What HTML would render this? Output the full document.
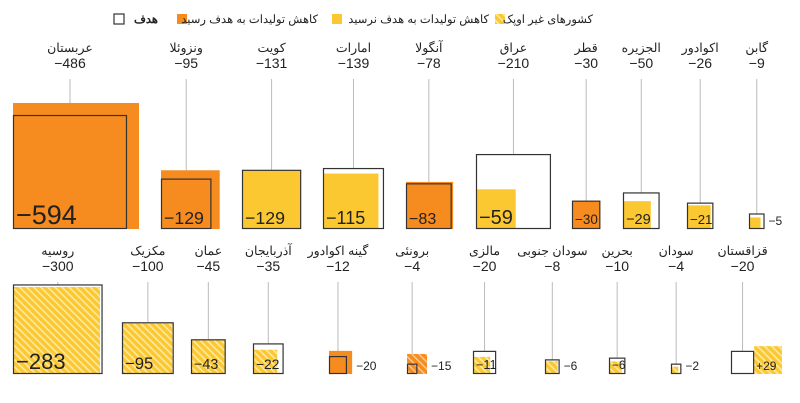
<!DOCTYPE html>
<html><head><meta charset="utf-8">
<style>
html,body{margin:0;padding:0;background:#fff;}
svg{display:block;font-family:"Liberation Sans","Noto Sans CJK SC",sans-serif;}
</style></head>
<body>
<svg id="chart" width="800" height="403" viewBox="0 0 800 403" xmlns="http://www.w3.org/2000/svg">
<defs>
<pattern id="hatchY" patternUnits="userSpaceOnUse" width="5" height="5" patternTransform="rotate(-45)">
<rect width="5" height="5" fill="#fcc832"/><rect width="1.6" height="5" fill="#fde9a0"/>
</pattern>
<pattern id="hatchO" patternUnits="userSpaceOnUse" width="5" height="5" patternTransform="rotate(-45)">
<rect width="5" height="5" fill="#f68b1f"/><rect width="1.6" height="5" fill="#fbc58a"/>
</pattern>
</defs>
<g id="legend">
<g>
<rect x="114" y="14" width="10" height="10" fill="#fff" stroke="#333" stroke-width="1.2"/>
<text x="158" y="23" font-size="11.5" font-weight="bold" fill="#222" text-anchor="end">هدف</text></g>
<g>
<rect x="177" y="14" width="10" height="10" fill="#f68b1f"/>
<text x="318" y="23" font-size="11.5" fill="#222" text-anchor="end">کاهش تولیدات به هدف رسید</text></g>
<g>
<rect x="332" y="14" width="10" height="10" fill="#fcc832"/>
<text x="489" y="23" font-size="11.5" fill="#222" text-anchor="end">کاهش تولیدات به هدف نرسید</text></g>
<g>
<rect x="495" y="14" width="10" height="10" fill="url(#hatchY)"/>
<text x="593" y="23" font-size="11.5" fill="#222" text-anchor="end">کشورهای غیر اوپک</text></g>
</g>
<g id="marks"></g>
</svg>
<script>
// Row 1
const names1 = ["عربستان","ونزوئلا","کویت","امارات","آنگولا","عراق","قطر","الجزیره","اکوادور","گابن"];
const targets1 = [-486,-95,-131,-139,-78,-210,-30,-50,-26,-9];
const actuals1 = [-594,-129,-129,-115,-83,-59,-30,-29,-21,-5];
const nonOpec1 = [false,false,false,false,false,false,false,false,false,false];
// Row 2
const names2 = ["روسیه","مکزیک","عمان","آذربایجان","گینه اکوادور","برونئی","مالزی","سودان جنوبی","بحرین","سودان","قزاقستان"];
const targets2 = [-300,-100,-45,-35,-12,-4,-20,-8,-10,-4,-20];
const actuals2 = [-283,-95,-43,-22,-20,-15,-11,-6,-6,-2,29];
const nonOpec2 = [true,true,true,true,false,true,true,true,true,true,true];

const K = 5.17;
const side = v => Math.sqrt(Math.abs(v)) * K;
const svg = document.getElementById('marks');
const NS = "http://www.w3.org/2000/svg";
function mk(tag, attrs){const e=document.createElementNS(NS,tag);for(const k in attrs)e.setAttribute(k,attrs[k]);return e;}

function drawRow(names, targets, actuals, nonOpec, xs, base, nameY, row){
  names.forEach((n,i)=>{
    const g = mk('g',{});
    
    
    svg.appendChild(g);
    const x = xs[i];
    const ts = side(targets[i]), as = side(actuals[i]);
    const met = Math.abs(actuals[i]) >= Math.abs(targets[i]) || actuals[i] > 0;
    const ax = actuals[i] > 0 ? x + ts : x;
    const cx = x + ts/2;
    // labels
    const t1 = mk('text',{x:cx,y:nameY,'font-size':12.5,fill:'#222','text-anchor':'middle'});
    t1.textContent = n;
    
    
    g.appendChild(t1);
    const t2 = mk('text',{x:cx,y:nameY+16,'font-size':14,fill:'#222','text-anchor':'middle'});
    t2.textContent = '−'+Math.abs(targets[i]);
    
    
    g.appendChild(t2);
    // stem
    const st = mk('line',{x1:cx,x2:cx,y1:nameY+27,y2:base-ts,stroke:'#bbb','stroke-width':1});
    
    
    g.appendChild(st);
    // actual
    let fill = met ? '#f68b1f' : '#fcc832';
    if(nonOpec[i]) fill = met && actuals[i]<0 ? 'url(#hatchO)' : 'url(#hatchY)';
    const ar = mk('rect',{x:ax,y:base-as,width:as,height:as,fill:fill});
    
    
    g.appendChild(ar);
    // target
    const tr = mk('rect',{x:x+0.5,y:base-ts+0.5,width:ts-1,height:ts-1,fill:'none',stroke:'#333','stroke-width':1.2});
    
    
    g.appendChild(tr);
    // value label
    const mx = Math.max(ts, as);
    const lbl = (actuals[i]>0?'+':'−')+Math.abs(actuals[i]);
    let vt;
    if(actuals[i] > 0){
      vt = mk('text',{x:ax+2,y:base-4,'font-size':12,fill:'#222'});
    } else if(mx >= 24 || (as < ts && mx >= 16)){
      const fs = Math.min(27, 9.5 + mx*0.14);
      vt = mk('text',{x:x+3,y:base-5,'font-size':fs,fill:'#222'});
    } else {
      vt = mk('text',{x:x+mx+4,y:base-4,'font-size':12,fill:'#222'});
    }
    vt.textContent = lbl;
    
    
    g.appendChild(vt);
  });
}
drawRow(names1,targets1,actuals1,nonOpec1,[13,161,242,323,406,476,572,623,687,749],229,52,1);
drawRow(names2,targets2,actuals2,nonOpec2,[13,122,191,253,329,407,473,545,609,671,731],374,255,2);
</script>
</body></html>
